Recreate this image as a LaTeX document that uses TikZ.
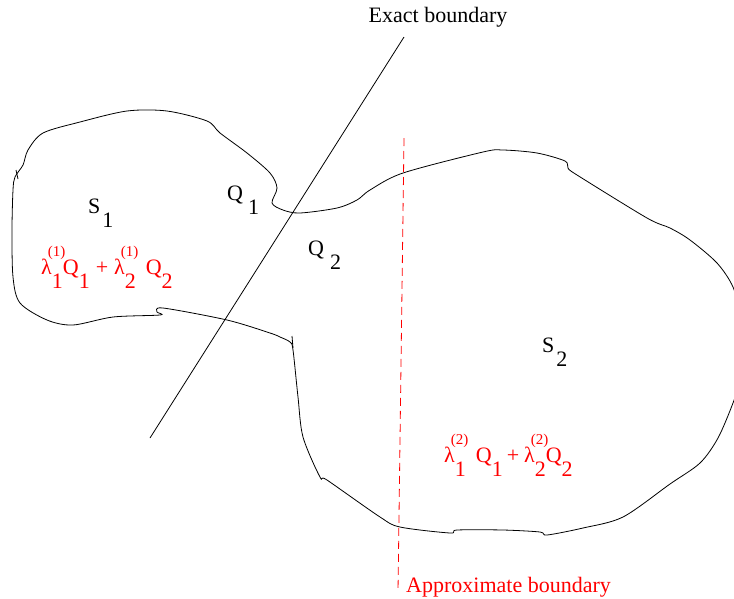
\documentclass[tikz,border=0pt]{standalone}
\usepackage{fontspec}
\setmainfont{Liberation Serif}
\usepackage{xcolor}
\definecolor{ApproxRed}{HTML}{FF0000}
% lowered index and raised class index, as the figure sets them
\newcommand{\lowsub}[1]{\raisebox{-14pt}{#1}}
\newcommand{\highsup}[1]{\makebox[0pt][l]{\hspace{-4pt}\raisebox{18pt}{\fontsize{15}{15}\selectfont #1}}}

\begin{document}
\begin{tikzpicture}[x=1pt,y=-1pt,
    every node/.style={inner sep=0pt,font=\fontsize{22}{26}\selectfont},
    blobline/.style={line width=0.8pt,black},
    regiontext/.style={anchor=base west},
    redtext/.style={anchor=base west,text=ApproxRed}
  ]
  \useasboundingbox (0,0) rectangle (734,598);

  % outline of the two regions
  \draw[blobline] plot[smooth cycle,tension=0.5] coordinates {
    (15,177) (23,165) (28,150) (43,133) (80,122) (127,111) (167,111)
    (207,121) (220,133) (247,153) (270,173) (277,188) (272,203)
    (283,210) (300,213) (337,208) (357,200) (370,190) (403,173)
    (483,152) (503,150) (537,153) (565,161) (568,168) (577,175)
    (647,218) (670,228) (690,240) (717,263) (733,287) (741,318)
    (744,350) (740,380) (733,403) (718,438) (700,463) (670,484)
    (623,517) (583,528)
    (547,535) (540,532) (503,530) (457,530) (450,533) (400,527)
    (380,517) (327,480) (320,477) (303,437) (298,397) (293,350)
    (290,342) (280,337) (270,333) (227,320) (163,308) (157,312)
    (160,315) (113,317) (73,325) (47,320) (20,303) (13,277)
    (12,230) (13,190)
  };
  \draw[blobline] (16,170) -- (18,179);
  \draw[blobline] (292,336) -- (293,348);

  % boundaries
  \coordinate (exacttop) at (404,37);
  \coordinate (exactbot) at (150,438);
  \draw[line width=0.8pt] (exacttop) -- (exactbot);
  \coordinate (approxtop) at (404,138);
  \coordinate (approxbot) at (398,592);
  \draw[ApproxRed,line width=0.8pt,dash pattern=on 8pt off 5pt] (approxtop) -- (approxbot);

  \node[anchor=base] (exactlabel) at (438,22) {Exact boundary};
  \node[redtext] (approxlabel) at (406,592) {Approximate boundary};

  % region and point labels
  \node[regiontext] (sone) at (88,213) {S\hspace{2pt}\lowsub{1}};
  \node[regiontext] (qone) at (227,200) {Q\hspace{5pt}\lowsub{1}};
  \node[regiontext] (qtwo) at (308,255) {Q\hspace{6pt}\lowsub{2}};
  \node[regiontext] (stwo) at (542,352) {S\hspace{2pt}\lowsub{2}};

  % convex combinations
  \node[redtext] (combone) at (41,274)
    {λ\highsup{(1)}\lowsub{1}Q\lowsub{1}\hspace{6pt}+\hspace{6pt}λ\highsup{(1)}\lowsub{2}\hspace{10pt}Q\lowsub{2}};
  \node[redtext] (combtwo) at (444,462)
    {λ\highsup{(2)}\lowsub{1}\hspace{10pt}Q\lowsub{1}\hspace{4pt}+\hspace{5pt}λ\highsup{(2)}\lowsub{2}Q\lowsub{2}};
\end{tikzpicture}
\end{document}
